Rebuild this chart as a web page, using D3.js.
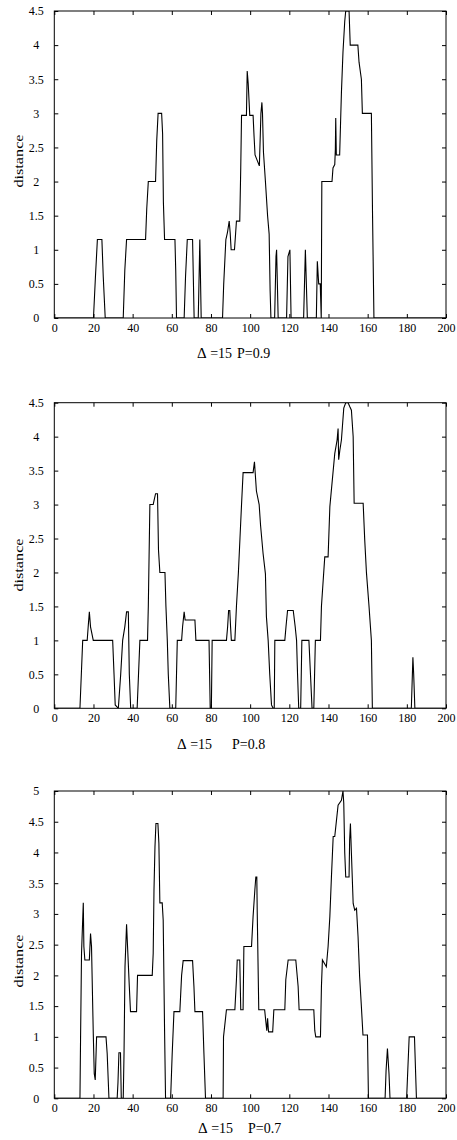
<!DOCTYPE html>
<html>
<head>
<meta charset="utf-8">
<script src="https://cdn.jsdelivr.net/npm/d3@7"></script>
<style>
  body { margin: 0; background: #fff; }
  svg text { font-family: 'Liberation Serif', 'Times New Roman', serif; fill: #000; }
</style>
</head>
<body>
<div id="chart"></div>
<script>
// tick labels
const xTicks = [0, 20, 40, 60, 80, 100, 120, 140, 160, 180, 200];
const yTicks45 = [0, 0.5, 1, 1.5, 2, 2.5, 3, 3.5, 4, 4.5];
const yTicks5 = [0, 0.5, 1, 1.5, 2, 2.5, 3, 3.5, 4, 4.5, 5];

// captions
const deltaText = ['\u0394 =15', '\u0394 =15', '\u0394 =15'];
const pText = ['P=0.9', 'P=0.8', 'P=0.7'];

// P=0.9 : corner points of the distance curve
const p09x = [0, 20, 21, 22, 24.3, 25, 26,
  35.2, 36, 36.9, 46.6, 47.2, 48, 51.7, 52.3, 53, 54.8, 55.3, 55.7, 56.3, 61.6, 62, 62.4,
  66.3, 67, 67.9, 70.6, 71.4, 73.5, 74, 74.3, 75,
  85.9, 86.5, 87.6, 88.4, 89.3, 89.8, 90.3, 92, 92.6, 93, 94.7, 95.2, 95.6, 98.1, 98.5, 99, 99.8,
  101.5, 102, 102.5, 104.7, 105.2, 105.5, 106, 106.3, 106.8, 107.8, 108.9, 109.7, 110.2, 110.6,
  112.5, 113.2, 113.5, 114.3, 118.6, 119.3, 120.3, 120.9, 127.3, 128.2, 129.2,
  133.8, 134.3, 135, 135.8, 136.3, 136.6, 141.8, 142.3, 143.2, 143.5, 143.7, 144, 145.7, 146.2,
  146.6, 147.4, 148.3, 148.8, 150.5, 151.1, 155, 155.6, 156.8, 157.3, 161.9, 162.5, 163.2, 200];
const p09y = [0, 0, 0.6, 1.15, 1.15, 0.6, 0,
  0, 0.7, 1.15, 1.15, 1.6, 2, 2, 2.6, 3, 3, 2.7, 1.7, 1.15, 1.15, 0.7, 0,
  0, 0.6, 1.15, 1.15, 0, 0, 0.7, 1.15, 0,
  0, 0.5, 1.15, 1.25, 1.42, 1.25, 1.0, 1.0, 1.25, 1.42, 1.42, 2.2, 2.97, 2.97, 3.62, 3.44, 2.97,
  2.97, 2.66, 2.39, 2.23, 2.7, 3.0, 3.16, 3.0, 2.43, 2.0, 1.5, 1.23, 0.4, 0,
  0, 0.9, 1.0, 0, 0, 0.9, 1.0, 0, 0, 1.0, 0,
  0, 0.83, 0.5, 0.5, 0, 2.0, 2.0, 2.2, 2.25, 2.47, 2.93, 2.39, 2.39, 2.9,
  3.3, 3.9, 4.35, 4.5, 4.5, 4.0, 4.0, 3.75, 3.5, 3.0, 3.0, 1.5, 0, 0];

// P=0.8
const p08x = [0, 13.1, 13.8, 14.5, 16.8, 17.3, 17.9, 18.5, 19.9, 29.8, 30.5, 31.1, 32.7, 33.9, 34.9,
  36, 36.9, 37.8, 38.3, 39,
  42.3, 43.7, 47.6, 48, 48.8, 50.5, 51, 51.7, 52.7, 53.2, 53.9, 56.5, 57, 57.7, 58.2, 59,
  62, 62.8, 65, 65.5, 66.3, 66.8, 71.8, 72.3, 79, 79.6, 80.2, 80.6, 87.9, 88.5, 89, 89.6, 90, 90.4,
  92.2, 93, 94, 94.8, 95.6, 96.4, 101.5, 102.2, 103.2, 104.6, 105.3, 106.6, 107.8, 108.3, 109.2,
  110, 110.9, 111.7, 112.3, 112.6, 117.7, 118.3, 119.1, 122, 123, 123.7, 124.2, 124.8, 125.8,
  126.4, 130, 130.8, 131.6, 132.5, 133.3, 135.9, 136.4, 138.1, 139.8, 140.7, 143.2, 144.4, 144.9,
  145.2, 145.8, 146.6, 147.8, 148.8, 150, 150.9, 151.7, 152.6, 153.1, 157.7, 158.5, 159.4,
  160.7, 161.9, 162.4, 182.3, 183.1, 183.5, 184.1, 200];
const p08y = [0, 0, 0.5, 1.0, 1.0, 1.2, 1.42, 1.2, 1.0, 1.0, 0.5, 0.05, 0, 0.5, 1.0,
  1.2, 1.42, 1.42, 0.5, 0,
  0, 1.0, 1.0, 1.5, 3.0, 3.0, 3.07, 3.16, 3.16, 2.33, 2.0, 2.0, 1.5, 1.0, 0.5, 0,
  0, 1.0, 1.0, 1.2, 1.42, 1.3, 1.3, 1.0, 1.0, 0, 0, 1.0, 1.0, 1.2, 1.44, 1.44, 1.2, 1.0,
  1.0, 1.5, 2.0, 2.5, 3.0, 3.47, 3.47, 3.63, 3.2, 3.0, 2.7, 2.28, 1.98, 1.35, 1.0,
  0.5, 0.05, 0, 0, 1.0, 1.0, 1.2, 1.44, 1.44, 1.2, 1.0, 0.5, 0, 0,
  1.0, 1.0, 0.5, 0, 0, 1.0, 1.0, 1.5, 2.23, 2.23, 2.97, 3.75, 3.95, 4.12,
  3.66, 3.8, 3.95, 4.42, 4.5, 4.5, 4.44, 4.39, 4.0, 3.02, 3.02, 2.48, 1.99,
  1.5, 1.0, 0, 0, 0.75, 0.5, 0, 0];

// P=0.7
const p07x = [0, 13.1, 13.4, 13.9, 14.8, 15.1, 15.6, 17.9, 18.5, 19.0, 19.9, 20.4, 20.9, 21.6, 26.4, 27.0, 27.9,
  32.1, 32.5, 33.0, 33.8, 34.2, 35.2, 35.6, 36.1, 36.9, 37.4, 38.3, 38.9, 42.0, 42.5, 50.0, 50.5, 50.9,
  51.4, 51.9, 52.9, 53.4, 53.9, 55.1, 55.6, 56.3, 56.8,
  59.4, 60.2, 61.1, 64.1, 65.0, 65.8, 70.6, 71.3, 71.8, 75.7, 76.4, 77.2,
  86.2, 86.4, 87.9, 92.2, 93.0, 93.4, 94.7, 95.2, 96.4, 96.8, 100.7, 101.5, 102.4, 102.9, 103.4, 103.6,
  104.4, 107.4, 108.0, 108.5, 108.9, 109.4, 111.5, 112.1, 117.7, 118.2, 119.4, 123.3, 124.5, 125.0,
  132.5, 133.0, 133.5, 135.9, 136.4, 136.9, 137.8, 138.9, 139.8, 140.7, 141.5, 142.4, 143.2, 144.1,
  144.9, 146.6, 147.4, 147.8, 148.3, 148.8, 150.5, 150.8, 151.2, 151.7, 152.6, 153.4, 154.3, 155.1,
  155.9, 156.8, 157.6, 159.9, 160.4,
  168.9, 169.4, 170.1, 170.9, 171.4, 179.9, 181.2, 183.9, 184.9, 200];
const p07y = [0, 0, 0.95, 2.36, 3.18, 2.47, 2.25, 2.25, 2.68, 2.47, 1.05, 0.4, 0.3, 1.0, 1.0, 0.73, 0,
  0, 0.25, 0.74, 0.74, 0, 0, 0.73, 2.14, 2.83, 2.47, 1.82, 1.41, 1.41, 2.0, 2.0, 2.36, 3.39,
  4.09, 4.47, 4.47, 4.15, 3.18, 3.18, 2.9, 1.11, 0,
  0, 0.73, 1.41, 1.41, 2.0, 2.24, 2.24, 1.82, 1.41, 1.41, 0.73, 0,
  0, 1.0, 1.44, 1.44, 1.93, 2.25, 2.25, 1.44, 1.44, 2.47, 2.47, 2.96, 3.39, 3.6, 3.6, 3.06,
  1.44, 1.44, 1.25, 1.1, 1.3, 1.08, 1.08, 1.44, 1.44, 1.93, 2.25, 2.25, 1.82, 1.44,
  1.44, 1.1, 1.0, 1.0, 1.82, 2.25, 2.2, 2.14, 2.47, 2.96, 3.6, 4.26, 4.26, 4.53,
  4.77, 4.85, 5.0, 4.8, 3.99, 3.6, 3.6, 4.2, 4.47, 3.99, 3.17, 3.06, 3.09, 2.63,
  1.98, 1.49, 1.03, 1.03, 0,
  0, 0.45, 0.81, 0.4, 0, 0, 1.0, 1.0, 0, 0];

const W = 457, H = 1140;
const xLeft = 54.3, xRight = 446;

const panels = [
  { xs: p09x, ys: p09y, yMax: 4.5, yTicks: yTicks45, top: 11, bottom: 318,
    labelY: 161, dx: 197, px: 237, capY: 357.5 },
  { xs: p08x, ys: p08y, yMax: 4.5, yTicks: yTicks45, top: 402.7, bottom: 708.3,
    labelY: 565, dx: 177, px: 232, capY: 748.5 },
  { xs: p07x, ys: p07y, yMax: 5, yTicks: yTicks5, top: 791, bottom: 1098.3,
    labelY: 961, dx: 198, px: 248, capY: 1132.5 }
];

const svg = d3.select('#chart')
  .append('svg')
  .attr('width', W)
  .attr('height', H)
  .style('background', '#fff');

const x = d3.scaleLinear().domain([0, 200]).range([xLeft, xRight]);

panels.forEach(function (p, i) {
  const y = d3.scaleLinear().domain([0, p.yMax]).range([p.bottom, p.top]);
  const g = svg.append('g');

  g.append('clipPath')
    .attr('id', 'clip' + i)
    .append('rect')
    .attr('x', xLeft).attr('y', p.top)
    .attr('width', xRight - xLeft).attr('height', p.bottom - p.top);

  const pts = p.xs.map((v, k) => [v, p.ys[k]]);
  const line = d3.line().x(d => x(d[0])).y(d => y(d[1]));
  g.append('path')
    .datum(pts)
    .attr('clip-path', 'url(#clip' + i + ')')
    .attr('d', line)
    .attr('fill', 'none')
    .attr('stroke', '#000')
    .attr('stroke-width', 1.1);

  // bottom axis, ticks pointing in
  const xa = g.append('g')
    .attr('transform', 'translate(0,' + p.bottom + ')')
    .call(d3.axisBottom(x).tickValues(xTicks).tickSizeInner(-4).tickSizeOuter(0).tickPadding(5));
  // top mirror ticks
  const xt = g.append('g')
    .attr('transform', 'translate(0,' + p.top + ')')
    .call(d3.axisTop(x).tickValues(xTicks).tickSizeInner(-4).tickSizeOuter(0).tickFormat(''));
  // left axis
  const ya = g.append('g')
    .attr('transform', 'translate(' + xLeft + ',0)')
    .call(d3.axisLeft(y).tickValues(p.yTicks).tickSizeInner(-4).tickSizeOuter(0).tickFormat(d3.format('')));
  ya.selectAll('text').attr('x', -18).attr('text-anchor', 'middle');
  // right mirror ticks
  const yr = g.append('g')
    .attr('transform', 'translate(' + xRight + ',0)')
    .call(d3.axisRight(y).tickValues(p.yTicks).tickSizeInner(-4).tickSizeOuter(0).tickFormat(''));

  [xa, xt, ya, yr].forEach(function (a) {
    a.select('.domain').remove();
    a.selectAll('line').attr('stroke', '#000');
    a.selectAll('text').style('font-size', '12px').style('font-family', "'Liberation Serif', serif").attr('fill', '#000');
  });

  g.append('rect')
    .attr('x', xLeft).attr('y', p.top)
    .attr('width', xRight - xLeft).attr('height', p.bottom - p.top)
    .attr('fill', 'none')
    .attr('stroke', '#000')
    .attr('stroke-width', 1);

  g.append('text')
    .attr('transform', 'translate(23,' + p.labelY + ') rotate(-90)')
    .attr('text-anchor', 'middle')
    .attr('textLength', 53)
    .attr('lengthAdjust', 'spacingAndGlyphs')
    .style('font-size', '12px')
    .text('distance');

  const cap = g.append('text')
    .attr('x', p.dx).attr('y', p.capY)
    .style('font-size', '14px');
  cap.append('tspan').style('font-size', '15px').text(deltaText[i].charAt(0));
  cap.append('tspan').text(deltaText[i].slice(1));
  g.append('text')
    .attr('x', p.px).attr('y', p.capY)
    .style('font-size', '14px')
    .text(pText[i]);
});
</script>
</body>
</html>
